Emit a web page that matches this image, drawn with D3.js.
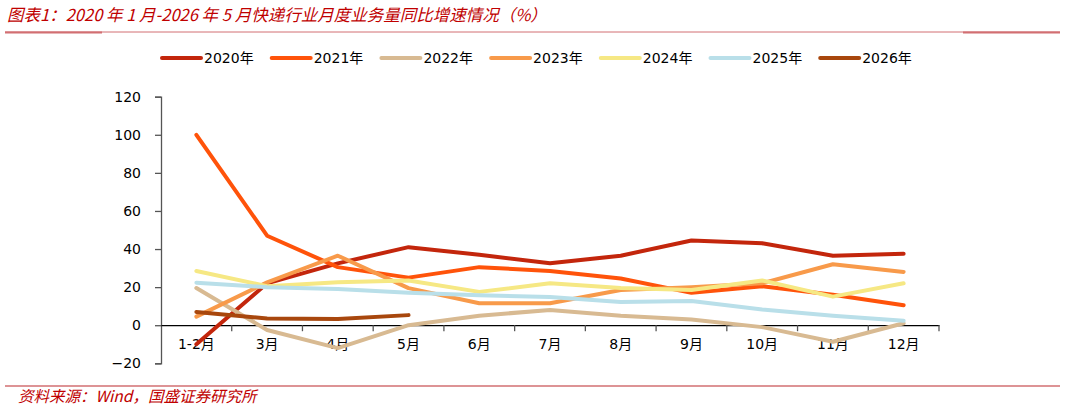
<!DOCTYPE html>
<html>
<head>
<meta charset="utf-8">
<script src="https://cdn.jsdelivr.net/npm/d3@7"></script>
<style>
  body { margin: 0; background: #fff; }
  svg { display: block; }
</style>
</head>
<body>
<svg id="chart"></svg>
<script>
const months = ["1-2月", "3月", "4月", "5月", "6月", "7月", "8月", "9月", "10月", "11月", "12月"];
const years = ["2020年", "2021年", "2022年", "2023年", "2024年", "2025年", "2026年"];
const colors = ["#C3260C", "#FF530A", "#D8BA92", "#F89A4A", "#F6E884", "#B9DFE9", "#A8470D"];

const v2020 = [-10, 22, 32.5, 41, 37, 32.5, 36.5, 44.5, 43, 36.5, 37.5];
const v2021 = [100, 47, 30.5, 25, 30.5, 28.5, 24.5, 17, 20.5, 16, 10.5];
const v2022 = [19.5, -2.5, -12, 0, 5, 8, 5, 3, -1, -8.7, 1];
const v2023 = [4.5, 22.5, 36.5, 19.5, 11.5, 11.5, 18.5, 20, 22, 32, 28];
const v2024 = [28.5, 20.5, 22.5, 23.5, 17.5, 22, 19.5, 18.5, 23.5, 15, 22];
const v2025 = [22.3, 20, 19, 17, 15.7, 14.8, 12.2, 12.7, 8.2, 5, 2.3];
const v2026 = [7, 3.5, 3.2, 5.3];
const yTicks = [-20, 0, 20, 40, 60, 80, 100, 120];

const series = [v2020, v2021, v2022, v2023, v2024, v2025, v2026];

const W = 1065, H = 410;
const svg = d3.select("#chart").attr("width", W).attr("height", H);

const cjk = "'Noto Sans CJK SC', sans-serif";
const num = "'DejaVu Sans', Verdana, 'Noto Sans CJK SC', sans-serif";
const red = "#C00000";
const ruleColor = "#D26F72";

// 标题
svg.append("text")
  .attr("x", 7).attr("y", 21)
  .attr("fill", red)
  .style("font-family", cjk)
  .style("font-size", "16.5px")
  .style("font-style", "italic")
  .text("图表1：2020 年 1 月-2026 年 5 月快递行业月度业务量同比增速情况（%）");

// 顶部分隔线
svg.append("line").attr("x1", 5).attr("x2", 1060).attr("y1", 32).attr("y2", 32)
  .attr("stroke", ruleColor).attr("stroke-width", 1);
svg.append("line").attr("x1", 5).attr("x2", 102).attr("y1", 32.5).attr("y2", 32.5)
  .attr("stroke", ruleColor).attr("stroke-width", 2);
svg.append("line").attr("x1", 963).attr("x2", 1060).attr("y1", 32.5).attr("y2", 32.5)
  .attr("stroke", ruleColor).attr("stroke-width", 2);

// 底部分隔线和来源
svg.append("line").attr("x1", 5).attr("x2", 1060).attr("y1", 386).attr("y2", 386)
  .attr("stroke", ruleColor).attr("stroke-width", 1.5);
svg.append("text")
  .attr("x", 18).attr("y", 402)
  .attr("fill", red)
  .style("font-family", cjk)
  .style("font-size", "15.5px")
  .style("font-style", "italic")
  .text("资料来源：Wind，国盛证券研究所");

// 图例
const legend = svg.append("g").attr("transform", "translate(160,58)");
const item = legend.selectAll("g").data(years).enter().append("g")
  .attr("transform", (d, i) => `translate(${i * 109.7},0)`);
item.append("line")
  .attr("x1", 2).attr("x2", 41).attr("y1", 0).attr("y2", 0)
  .attr("stroke", (d, i) => colors[i])
  .attr("stroke-width", 4)
  .attr("stroke-linecap", "round");
item.append("text")
  .attr("x", 44).attr("y", 5)
  .style("font-family", num)
  .style("font-size", "14px")
  .attr("fill", "#000")
  .text(d => d);

// 坐标
const x = d3.scaleBand().domain(months).range([161, 939]);
const y = d3.scaleLinear().domain([-20, 120]).range([363.3, 96.7]);

const yAxis = svg.append("g")
  .attr("transform", "translate(161,0)")
  .call(d3.axisLeft(y).tickValues(yTicks).tickSize(6).tickPadding(14).tickFormat(d3.format("d")));
yAxis.select(".domain").attr("stroke", "#555").attr("stroke-width", 1.3);
yAxis.selectAll(".tick line").attr("stroke", "#555").attr("stroke-width", 1.3);
yAxis.selectAll("text")
  .style("font-family", num).style("font-size", "14px").attr("fill", "#000");

const xAxis = svg.append("g")
  .attr("transform", `translate(0,${y(0)})`)
  .call(d3.axisBottom(x).tickSize(0).tickPadding(14));
xAxis.select(".domain").attr("stroke", "#000").attr("stroke-width", 1.2);
xAxis.selectAll("text")
  .style("font-family", num).style("font-size", "14px").attr("fill", "#000");

// 分类边界刻度
const bounds = months.map(m => x(m)).concat([x.range()[1]]);
xAxis.selectAll(".bound").data(bounds.slice(1)).enter().append("line")
  .attr("x1", d => d).attr("x2", d => d)
  .attr("y1", 0).attr("y2", 6)
  .attr("stroke", "#555").attr("stroke-width", 1.3);

// 折线
const line = d3.line()
  .x((d, i) => x(months[i]) + x.bandwidth() / 2)
  .y(d => y(d));

svg.append("g").selectAll("path")
  .data(series)
  .enter().append("path")
  .attr("d", d => line(d))
  .attr("fill", "none")
  .attr("stroke", (d, i) => colors[i])
  .attr("stroke-width", 4)
  .attr("stroke-linecap", "round")
  .attr("stroke-linejoin", "round");
</script>
</body>
</html>
